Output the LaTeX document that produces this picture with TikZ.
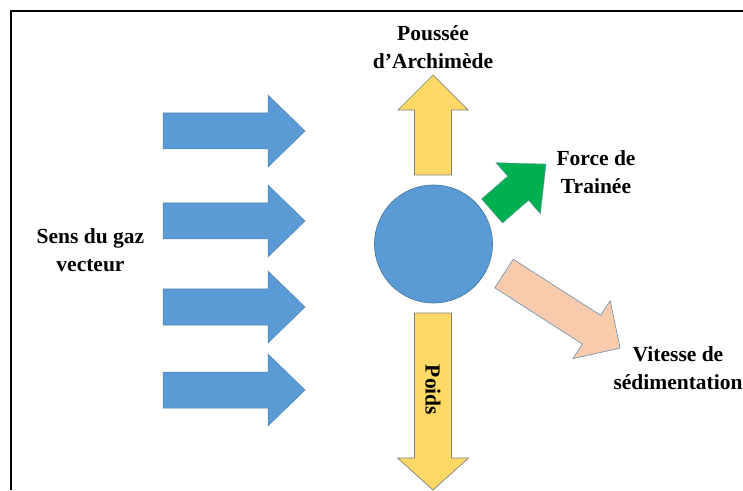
\documentclass[tikz,border=0pt]{standalone}
\usepackage{fontspec}
\setmainfont{Liberation Serif}
\definecolor{gasblue}{HTML}{5B9BD5}
\definecolor{blueline}{HTML}{41719C}
\definecolor{gold}{HTML}{FFD966}
\definecolor{grayline}{HTML}{7F7F7F}
\definecolor{dragreen}{HTML}{00B050}
\definecolor{peach}{HTML}{F8CBAD}
\newcommand\myblockarrow[7]{%
  \begin{scope}[shift={#2}, rotate=#3]
    \draw[#1] (0,-#6) -- ({#4-#5},-#6) -- ({#4-#5},-#7) -- (#4,0) -- ({#4-#5},#7) -- ({#4-#5},#6) -- (0,#6) -- cycle;
  \end{scope}}
\tikzset{
  lbl/.style={font=\bfseries\fontsize{21.5}{28}\selectfont, align=center, inner sep=0pt},
  bluearr/.style={fill=gasblue, draw=gasblue!85!black, line width=0.5pt},
  goldarr/.style={fill=gold, draw=grayline, line width=0.7pt},
  greenarr/.style={fill=dragreen, draw=blueline!70, line width=0.4pt},
  peacharr/.style={fill=peach, draw=blueline!80, line width=0.6pt},
}
\begin{document}
\begin{tikzpicture}[x=1pt,y=1pt]
\useasboundingbox (0,0) rectangle (743,490);
% frame
\draw[line width=2pt] (11,0) -- (11,479) -- (743,479);
% gas flow arrows
\myblockarrow{bluearr}{(163,359)}{0}{142}{37}{18}{36}
\myblockarrow{bluearr}{(163,269)}{0}{142}{37}{18}{36}
\myblockarrow{bluearr}{(163,183)}{0}{142}{37}{18}{36}
\myblockarrow{bluearr}{(163,100)}{0}{142}{37}{18}{36}
% particle
\node[circle, fill=gasblue, draw=blueline, line width=0.6pt, minimum size=118pt, inner sep=0pt] (part) at (433.5,246) {};
% buoyancy
\myblockarrow{goldarr}{(433,315)}{90}{100}{35}{18.5}{35}
% weight
\myblockarrow{goldarr}{(433,177)}{-90}{177}{32}{18.5}{35.5}
% drag
\myblockarrow{greenarr}{(492,279)}{41}{71.6}{37}{16}{34}
% settling velocity
\myblockarrow{peacharr}{(504,216.5)}{-32.7}{138}{34}{17}{34.5}
% labels
\node[lbl] (archi) at (433,443) {Poussée\\d’Archimède};
\node[lbl] (gaz) at (90.5,240) {Sens du gaz\\vecteur};
\node[lbl] (drag) at (596,318) {Force de\\Trainée};
\node[lbl] (vit) at (678,122) {Vitesse de\\sédimentation};
\node[lbl, rotate=-90] (poids) at (433,100) {Poids};
\end{tikzpicture}
\end{document}
